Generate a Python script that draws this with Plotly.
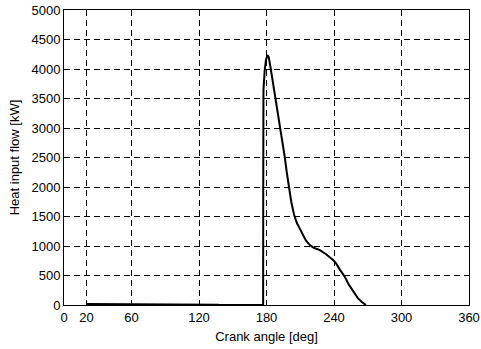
import plotly.graph_objects as go

# Heat release rate over the crank angle
crank_angle = [20, 102, 103, 137, 138, 177.0, 177.1, 177.3, 178.4, 179.5, 180.8, 182.0,
               183.8, 186.0, 188.0, 190.0, 192.0, 194.2, 196.3, 198.0, 199.8, 202.0,
               204.5, 207.0, 209.6, 212.0, 215.0, 218.5, 222.0, 227.4, 233.0, 239.2,
               242.0, 245.2, 249.6, 253.0, 257.0, 261.0, 264.5, 268.3]
heat_flow = [15, 15, 6, 6, 0, 0, 2000, 3640, 3980, 4150, 4237, 4200,
             4000, 3750, 3500, 3250, 3000, 2750, 2500, 2250, 2000, 1750,
             1530, 1390, 1295, 1200, 1095, 1015, 970, 930, 860, 763,
             700, 600, 480, 350, 225, 120, 56, 0]

x_ticks = [0, 20, 60, 120, 180, 240, 300, 360]
y_ticks = [0, 500, 1000, 1500, 2000, 2500, 3000, 3500, 4000, 4500, 5000]

font_family = "Liberation Sans, Arial, sans-serif"

fig = go.Figure()
fig.add_trace(go.Scatter(
    x=crank_angle, y=heat_flow, mode="lines",
    line=dict(color="black", width=2),
    showlegend=False,
))

axis_common = dict(
    showline=True, linecolor="black", linewidth=1, mirror="ticks",
    ticks="inside", ticklen=5, tickwidth=1, tickcolor="black",
    showgrid=True, gridcolor="black", gridwidth=1, griddash="6px,4px",
    zeroline=False, automargin=False,
    tickfont=dict(family=font_family, size=13, color="black"),
)

fig.update_xaxes(
    range=[0, 360], tickvals=x_ticks, ticktext=[str(v) for v in x_ticks],
    title=dict(text="Crank angle [deg]", standoff=8,
               font=dict(family=font_family, size=13, color="black")),
    **axis_common,
)
fig.update_yaxes(
    range=[0, 5000], tickvals=y_ticks, ticktext=[str(v) for v in y_ticks],
    title=dict(text="Heat input flow [kW]", standoff=8,
               font=dict(family=font_family, size=13, color="black")),
    **axis_common,
)

fig.update_layout(
    width=481, height=349,
    margin=dict(l=64, r=12, t=10, b=44),
    plot_bgcolor="white", paper_bgcolor="white",
)

fig.write_html("out.html")
